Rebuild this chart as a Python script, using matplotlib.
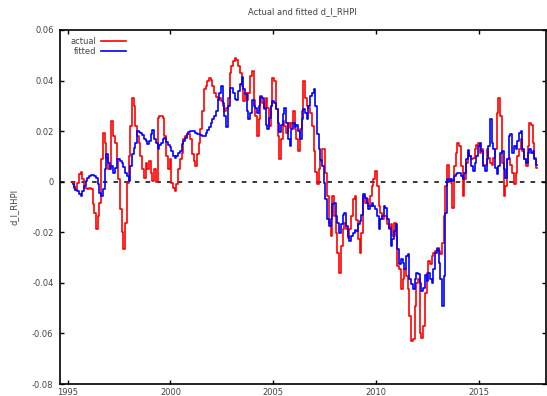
import numpy as np
import matplotlib
matplotlib.use("Agg")
import matplotlib.pyplot as plt

# monthly observations, first one is 1995:04
start_year = 1995 + 3 / 12

actual = [
    -0.0007, -0.0017, -0.0033, -0.0004, 0.0029, 0.0038, 0.0009, -0.0024, -0.0024, -0.0028,
    -0.0024, -0.0030, -0.0090, -0.0123, -0.0188, -0.0136, -0.0083, 0.0088, 0.0194, 0.0154,
    0.0095, 0.0049, 0.0062, 0.0240, 0.0180, 0.0154, 0.0088, 0.0009, -0.0109, -0.0200,
    -0.0267, -0.0162, -0.0004, 0.0101, 0.0220, 0.0332, 0.0299, 0.0220, 0.0180, 0.0154,
    0.0101, 0.0049, 0.0016, 0.0075, 0.0049, 0.0082, 0.0036, 0.0003, 0.0049, -0.0001,
    0.0253, 0.0260, 0.0260, 0.0253, 0.0180, 0.0101, 0.0049, 0.0088, -0.0004, -0.0024,
    -0.0037, -0.0010, 0.0049, 0.0088, 0.0115,
    0.0167, 0.0180, 0.0187, 0.0187, 0.0167, 0.0108, 0.0081, 0.0062, 0.0108, 0.0154,
    0.0207, 0.0279, 0.0365, 0.0378, 0.0397, 0.0410, 0.0404, 0.0378, 0.0352, 0.0336,
    0.0325, 0.0332, 0.0319, 0.0299, 0.0279, 0.0292, 0.0332, 0.0431, 0.0457, 0.0477,
    0.0490, 0.0481, 0.0457, 0.0431, 0.0378, 0.0319, 0.0352, 0.0325, 0.0352, 0.0418,
    0.0437, 0.0325, 0.0259, 0.0180, 0.0246, 0.0338, 0.0312, 0.0286, 0.0332, 0.0292,
    0.0220, 0.0299, 0.0410, 0.0397, 0.0286, 0.0180, 0.0088, 0.0167, 0.0240, 0.0220,
    0.0193, 0.0233, 0.0213, 0.0233, 0.0279, 0.0207, 0.0167, 0.0121, 0.0207, 0.0279,
    0.0400, 0.0330, 0.0300, 0.0290, 0.0270, 0.0220, 0.0120, 0.0040, -0.0010, 0.0050,
    0.0080, 0.0130, 0.0128, 0.0035,
    -0.0057, -0.0162, -0.0215, -0.0057, -0.0136, -0.0202, -0.0281, -0.0360, -0.0255, -0.0189,
    -0.0162, -0.0189, -0.0221, -0.0189, -0.0136, -0.0070, -0.0057, -0.0150, -0.0228, -0.0281,
    -0.0202, -0.0057, -0.0083, -0.0070, -0.0096, -0.0057, -0.0017, 0.0009, 0.0042, -0.0017,
    -0.0096, -0.0123, -0.0149, -0.0136, -0.0136, -0.0169, -0.0189, -0.0169, -0.0215, -0.0162,
    -0.0215, -0.0334, -0.0347, -0.0426, -0.0386, -0.0347, -0.0373, -0.0426, -0.0531, -0.0630,
    -0.0623, -0.0492, -0.0400, -0.0386,
    -0.0597, -0.0617, -0.0570, -0.0439, -0.0360, -0.0314, -0.0327, -0.0294, -0.0281, -0.0274,
    -0.0261, -0.0274, -0.0287, -0.0241, -0.0136, -0.0017, 0.0068, 0.0009, -0.0004, -0.0103,
    0.0062, 0.0115, 0.0154, 0.0141,
    0.0062, -0.0057, 0.0009, 0.0075, 0.0115, 0.0101, 0.0088, 0.0095, 0.0128, 0.0147,
    0.0154, 0.0115, 0.0128, 0.0068, 0.0068, 0.0128, 0.0095, 0.0075, 0.0068, 0.0095,
    0.0128, 0.0272, 0.0332, 0.0260, 0.0075, -0.0057, -0.0017, 0.0088, 0.0095, 0.0068,
    0.0035, -0.0011, 0.0035, 0.0101, 0.0128, 0.0167, 0.0121, 0.0088, 0.0062, 0.0141,
    0.0233, 0.0226, 0.0154, 0.0095, 0.0055,
]

fitted = [
    -0.0010, -0.0024, -0.0033, -0.0037, -0.0050, -0.0057, -0.0037, -0.0017, 0.0003, 0.0016,
    0.0022, 0.0025, 0.0025, 0.0022, 0.0016, -0.0010, -0.0043, -0.0057, -0.0030, 0.0049,
    0.0108, 0.0075, 0.0049, 0.0062, 0.0036, 0.0055, 0.0088, 0.0091, 0.0082, 0.0075,
    0.0059, 0.0036, 0.0022, 0.0003, 0.0062, 0.0108, 0.0134, 0.0154, 0.0200, 0.0196,
    0.0191, 0.0183, 0.0167, 0.0161, 0.0148, 0.0161, 0.0187, 0.0204, 0.0167, 0.0154,
    0.0128, 0.0144, 0.0154, 0.0167, 0.0173, 0.0157, 0.0144, 0.0138, 0.0121, 0.0101,
    0.0095, 0.0101, 0.0112, 0.0121, 0.0148,
    0.0161, 0.0174, 0.0187, 0.0196, 0.0200, 0.0200, 0.0200, 0.0194, 0.0190, 0.0187,
    0.0183, 0.0180, 0.0180, 0.0194, 0.0204, 0.0217, 0.0233, 0.0246, 0.0259, 0.0279,
    0.0325, 0.0352, 0.0378, 0.0312, 0.0259, 0.0217, 0.0299, 0.0371, 0.0371, 0.0352,
    0.0328, 0.0325, 0.0358, 0.0385, 0.0415, 0.0365, 0.0345, 0.0279, 0.0246, 0.0272,
    0.0325, 0.0299, 0.0292, 0.0272, 0.0299, 0.0336, 0.0332, 0.0292, 0.0226, 0.0207,
    0.0253, 0.0299, 0.0319, 0.0312, 0.0286, 0.0233, 0.0196, 0.0226, 0.0266, 0.0292,
    0.0233, 0.0167, 0.0140, 0.0207, 0.0233, 0.0217, 0.0226, 0.0200, 0.0167, 0.0246,
    0.0286, 0.0273, 0.0246, 0.0299, 0.0338, 0.0351, 0.0365, 0.0300, 0.0190, 0.0130,
    0.0085, 0.0062, -0.0004, -0.0070,
    -0.0149, -0.0175, -0.0149, -0.0090, -0.0083, -0.0136, -0.0162, -0.0202, -0.0169, -0.0130,
    -0.0123, -0.0175, -0.0215, -0.0235, -0.0215, -0.0204, -0.0191, -0.0195, -0.0169, -0.0156,
    -0.0130, -0.0050, -0.0063, -0.0083, -0.0109, -0.0096, -0.0083, -0.0096, -0.0109, -0.0136,
    -0.0189, -0.0149, -0.0136, -0.0096, -0.0103, -0.0149, -0.0182, -0.0254, -0.0228, -0.0195,
    -0.0169, -0.0268, -0.0327, -0.0307, -0.0320, -0.0347, -0.0294, -0.0287, -0.0386, -0.0406,
    -0.0426, -0.0386, -0.0360, -0.0366,
    -0.0400, -0.0432, -0.0419, -0.0367, -0.0393, -0.0360, -0.0386, -0.0400, -0.0347, -0.0281,
    -0.0267, -0.0320, -0.0386, -0.0492, -0.0373, -0.0123, 0.0009, 0.0003, 0.0009, 0.0003,
    0.0022, 0.0029, 0.0035, 0.0035,
    0.0022, 0.0009, 0.0035, 0.0088, 0.0125, 0.0101, 0.0062, 0.0042, 0.0075, 0.0101,
    0.0141, 0.0154, 0.0121, 0.0062, 0.0042, 0.0088, 0.0141, 0.0246, 0.0154, 0.0128,
    0.0055, 0.0029, 0.0062, 0.0115, 0.0121, 0.0049, 0.0016, 0.0088, 0.0180, 0.0187,
    0.0115, 0.0141, 0.0128, 0.0160, 0.0193, 0.0200, 0.0128, 0.0088, 0.0075, 0.0115,
    0.0128, 0.0115, 0.0121, 0.0088, 0.0068,
]

x_ticks = [1995, 2000, 2005, 2010, 2015]
y_ticks = [-0.08, -0.06, -0.04, -0.02, 0, 0.02, 0.04, 0.06]
y_labels = ["-0.08", "-0.06", "-0.04", "-0.02", "0", "0.02", "0.04", "0.06"]

t = start_year + np.arange(len(actual)) / 12

fig = plt.figure(figsize=(5.47, 3.96), dpi=100)
ax = fig.add_axes([0.1106, 0.0303, 0.8876, 0.894])

ax.axhline(0, color="black", lw=1.1, ls=(0, (3, 4)), zorder=1)
ax.plot(t, actual, color="#ff0000", lw=1.2, drawstyle="steps-mid", label="actual", zorder=2)
ax.plot(t, fitted, color="#0000ff", lw=1.2, drawstyle="steps-mid", label="fitted", zorder=3)

ax.set_xlim(1994.65, 2018.27)
ax.set_ylim(-0.08, 0.06)
ax.set_xticks(x_ticks)
ax.set_yticks(y_ticks)
ax.set_yticklabels(y_labels)
ax.tick_params(direction="in", length=3, width=1, top=True, right=True,
               labelsize=6, labelcolor="#444444", pad=5)
ax.tick_params(axis="x", pad=3)
for s in ax.spines.values():
    s.set_linewidth(1.2)

ax.set_ylabel("d_l_RHPI", fontsize=6, color="#444444", labelpad=10)
fig.text(0.552, 1 - 12 / 396, "Actual and fitted d_l_RHPI", ha="center", va="center",
         fontsize=6, color="#444444")

ax.legend(loc="upper left", bbox_to_anchor=(0.01, 0.995), frameon=False, markerfirst=False,
          fontsize=6, handlelength=3.0, handletextpad=0.6, labelspacing=0.15,
          labelcolor="#444444", borderaxespad=0.2)

fig.savefig("out.png", dpi=100)
